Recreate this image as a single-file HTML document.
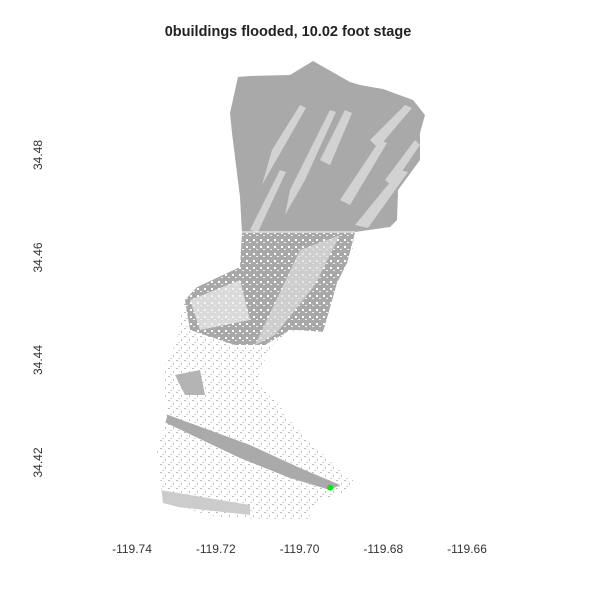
<!DOCTYPE html>
<html><head><meta charset="utf-8"><style>
html,body{margin:0;padding:0;background:#fff;}
svg{display:block;font-family:"Liberation Sans",Arial,sans-serif;}
</style></head><body>
<svg id="chart" width="600" height="600" viewBox="0 0 600 600">
<defs>
<pattern id="speckW" width="7" height="7" patternUnits="userSpaceOnUse">
<rect width="7" height="7" fill="#a8a8a8"/><rect x="1" y="1" width="2" height="2" fill="#fff"/><rect x="4" y="4" width="2" height="1" fill="#f2f2f2"/>
</pattern>
<pattern id="speckG" width="8" height="8" patternUnits="userSpaceOnUse">
<rect width="8" height="8" fill="#fff"/><rect x="0" y="0" width="2" height="1" fill="#bdbdbd"/><rect x="5" y="3" width="1" height="2" fill="#c4c4c4"/><rect x="2" y="6" width="2" height="1" fill="#d0d0d0"/>
</pattern>
<clipPath id="shape"><polygon points="238,77 250,76 290,75 313,61 350,82 360,85 383,89 413,100 425,115 420,133 420,160 398,190 397,220 390,227 355,232 352,253 337,283 323,332 297,330 273,343 260,370 257,383 277,403 307,440 337,467 353,480 352,490 320,500 307,520 283,520 217,517 163,503 157,450 167,417 163,370 177,340 183,300 197,287 240,267 242,233 240,197 232,133 230,113"/></clipPath>
</defs>
<text x="288" y="36" text-anchor="middle" font-size="14.5" font-weight="bold" fill="#222">0buildings flooded, 10.02 foot stage</text>
<g id="map" clip-path="url(#shape)">
<rect x="150" y="50" width="300" height="480" fill="url(#speckG)"/>
<rect x="150" y="50" width="300" height="183" fill="#a9a9a9"/>
<g fill="#d2d2d2">
<path d="M272,150 L300,105 L306,108 L282,150 L262,185 Z"/>
<path d="M290,190 L330,110 L336,112 L305,180 L285,215 Z"/>
<path d="M320,160 L345,110 L352,113 L330,165 Z"/>
<path d="M340,200 L380,140 L387,143 L350,205 Z"/>
<path d="M355,225 L400,170 L408,172 L368,228 Z"/>
<path d="M370,140 L405,105 L412,108 L378,148 Z"/>
<path d="M385,180 L415,140 L420,145 L392,186 Z"/>
<path d="M250,230 L280,170 L286,172 L258,232 Z"/>
</g>
<polygon points="240,233 355,233 340,290 325,332 290,330 265,345 235,345 190,330 185,300 197,287 240,267" fill="url(#speckW)"/>
<path d="M300,250 L340,235 L315,285 L275,335 L255,345 Z" fill="#dedede" opacity="0.7"/>
<path d="M190,300 L240,280 L250,320 L200,330 Z" fill="#f0f0f0" opacity="0.7"/>
<path d="M160,412 L250,445 L300,468 L340,485 L330,490 L290,478 L240,458 L160,420 Z" fill="#aaaaaa"/>
<path d="M175,375 L200,370 L205,395 L185,395 Z" fill="#b4b4b4"/>
<path d="M160,490 L220,500 L250,505 L250,515 L160,505 Z" fill="#cccccc"/>
</g>
<line x1="242" y1="232" x2="355" y2="232" stroke="#fff" stroke-width="1"/>
<g id="xticks"></g><g id="yticks"></g><g id="points"></g>
</svg>
<script>
const xTicks = [-119.74, -119.72, -119.70, -119.68, -119.66];
const xTickLabels = ["-119.74", "-119.72", "-119.70", "-119.68", "-119.66"];
const yTicks = [34.48, 34.46, 34.44, 34.42];
const yTickLabels = ["34.48", "34.46", "34.44", "34.42"];
const buildingLon = [-119.6927];
const buildingLat = [34.4151];
function xScale(v){ return 132 + (v + 119.74) / 0.02 * 83.75; }
function yScale(v){ return 155 + (34.48 - v) / 0.02 * 102.5; }
const NS = "http://www.w3.org/2000/svg";
const xg = document.getElementById('xticks');
xTicks.forEach((t,i)=>{
  const el = document.createElementNS(NS,'text');
  el.setAttribute('x', xScale(t)); el.setAttribute('y', 553);
  el.setAttribute('text-anchor','middle'); el.setAttribute('font-size','12'); el.setAttribute('fill','#333');
  el.textContent = xTickLabels[i];
  
  
  xg.appendChild(el);
});
const yg = document.getElementById('yticks');
yTicks.forEach((t,i)=>{
  const el = document.createElementNS(NS,'text');
  const y = yScale(t);
  el.setAttribute('x', 0); el.setAttribute('y', 0);
  el.setAttribute('transform', 'translate(42,' + y + ') rotate(-90)');
  el.setAttribute('text-anchor','middle'); el.setAttribute('font-size','12'); el.setAttribute('fill','#333');
  el.textContent = yTickLabels[i];
  
  
  yg.appendChild(el);
});
const pg = document.getElementById('points');
buildingLon.forEach((lon,i)=>{
  const c = document.createElementNS(NS,'circle');
  c.setAttribute('cx', xScale(lon)); c.setAttribute('cy', yScale(buildingLat[i]));
  c.setAttribute('r', 3); c.setAttribute('fill', '#00ee00');
  
  
  pg.appendChild(c);
});
</script>
</body></html>
